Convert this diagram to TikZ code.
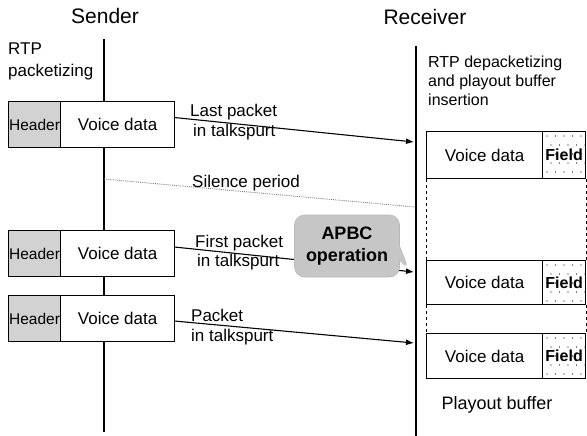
\documentclass[tikz,border=0pt]{standalone}
\usepackage{fontspec}
\setmainfont{Liberation Sans}
\usetikzlibrary{arrows.meta,calc,shapes.callouts,backgrounds}
\begin{document}
\begin{tikzpicture}[x=1pt,y=-1pt,
  lifeline/.style={line width=2.6pt},
  title/.style={font=\fontsize{21}{24}\selectfont},
  body/.style={font=\fontsize{17}{21}\selectfont},
  note/.style={font=\fontsize{16}{19}\selectfont, align=left, inner sep=0pt, anchor=west},
  lbl/.style={font=\fontsize{17}{20}\selectfont, align=left, inner sep=0pt, anchor=west},
  cell/.style={draw, line width=1.2pt, inner sep=0pt, anchor=north west},
  hdr/.style={cell, fill=gray!35, minimum width=52pt, minimum height=46pt, font=\fontsize{15.5}{18}\selectfont},
  voice/.style={cell, minimum width=114pt, minimum height=46pt, body},
  bvoice/.style={cell, minimum width=116pt, body},
  bfield/.style={cell, minimum width=43pt, font=\bfseries\fontsize{16}{19}\selectfont},
  msg/.style={line width=1.1pt, -{Latex[length=8pt,width=6pt]}},
  silence/.style={gray, densely dotted, line width=0.9pt},
  gap/.style={dashed, line width=1pt},
]
\useasboundingbox (0,0) rectangle (587,436);

% titles
\node[title] (sender) at (105,16) {Sender};
\node[title] (receiver) at (425,17) {Receiver};

% lifelines
\coordinate (stop) at (104,39);
\coordinate (sbot) at (104,432);
\coordinate (rtop) at (416,46);
\coordinate (rbot) at (416,436);
\draw[lifeline] (stop) -- (sbot);
\draw[lifeline] (rtop) -- (rbot);

% annotations
\node[lbl, font=\fontsize{17}{22}\selectfont] (pack) at (8,61) {RTP\\packetizing};
\node[note] (depack) at (428,81) {RTP depacketizing\\and playout buffer\\insertion};

% sender packets
\node[hdr, fill=gray!35] (h1) at (8,101) {Header};
\node[voice, fill=white] (v1) at (60,101) {Voice data};
\node[hdr] (h2) at (8,230) {Header};
\node[voice, fill=white] (v2) at (60,230) {Voice data};
\node[hdr] (h3) at (8,295) {Header};
\node[voice, fill=white] (v3) at (60,295) {Voice data};

% receiver playout buffer
\node[bvoice, minimum height=47pt] (b1) at (426,131) {Voice data};
\node[bfield, minimum height=47pt] (f1) at (542,131) {Field};
\node[bvoice, minimum height=44pt] (b2) at (426,260) {Voice data};
\node[bfield, minimum height=44pt] (f2) at (542,260) {Field};
\node[bvoice, minimum height=45pt] (b3) at (426,333) {Voice data};
\node[bfield, minimum height=45pt] (f3) at (542,333) {Field};
\begin{scope}[on background layer]
  \foreach \f in {f1,f2,f3}{
    \foreach \i in {0,...,4}{
      \foreach \j in {0,...,4}{
        \fill ($(\f.north west)+({5+\i*8.5+mod(\j,2)*4},{5+\j*9})$) circle (0.55pt);
      }
    }
  }
\end{scope}
\draw[gap] (b1.south west) -- (b2.north west);
\draw[gap] (f1.south east) -- (f2.north east);
\draw[gap] (b2.south west) -- (b3.north west);
\draw[gap] (f2.south east) -- (f3.north east);
\node[font=\fontsize{18}{21}\selectfont] (playout) at (497,405) {Playout buffer};

% receiver arrival points
\coordinate (r1) at (414,142);
\coordinate (r2) at (414,272);
\coordinate (r3) at (414,343);
\coordinate (sl) at (104,179);
\coordinate (rl) at (415,207);

% messages
\draw[msg] ([yshift=7pt]v1.east) -- (r1);
\node[lbl] (t1) at (190,122.5) {Last packet\\\hspace*{3pt}in talkspurt};
\draw[silence] (sl) -- (rl);
\node[lbl] (t0) at (192,183) {Silence period};
\draw[msg] ([yshift=6.5pt]v2.east) -- (r2);
\node[lbl, font=\fontsize{17}{19}\selectfont] (t2) at (195,252.5) {First packet\\\hspace*{2pt}in talkspurt};
\draw[msg] ([yshift=-2.5pt]v3.east) -- (r3);
\node[lbl] (t3) at (191,327) {Packet\\in talkspurt};

% APBC callout
\node[rectangle callout, callout absolute pointer={(409,270)}, callout pointer width=14pt,
      rounded corners=10pt, fill=gray!45, draw=gray!55, line width=0.6pt,
      minimum width=105pt, minimum height=62pt, align=center,
      font=\bfseries\fontsize{18}{22}\selectfont] (apbc) at (347,246) {APBC\\operation};
\end{tikzpicture}
\end{document}
